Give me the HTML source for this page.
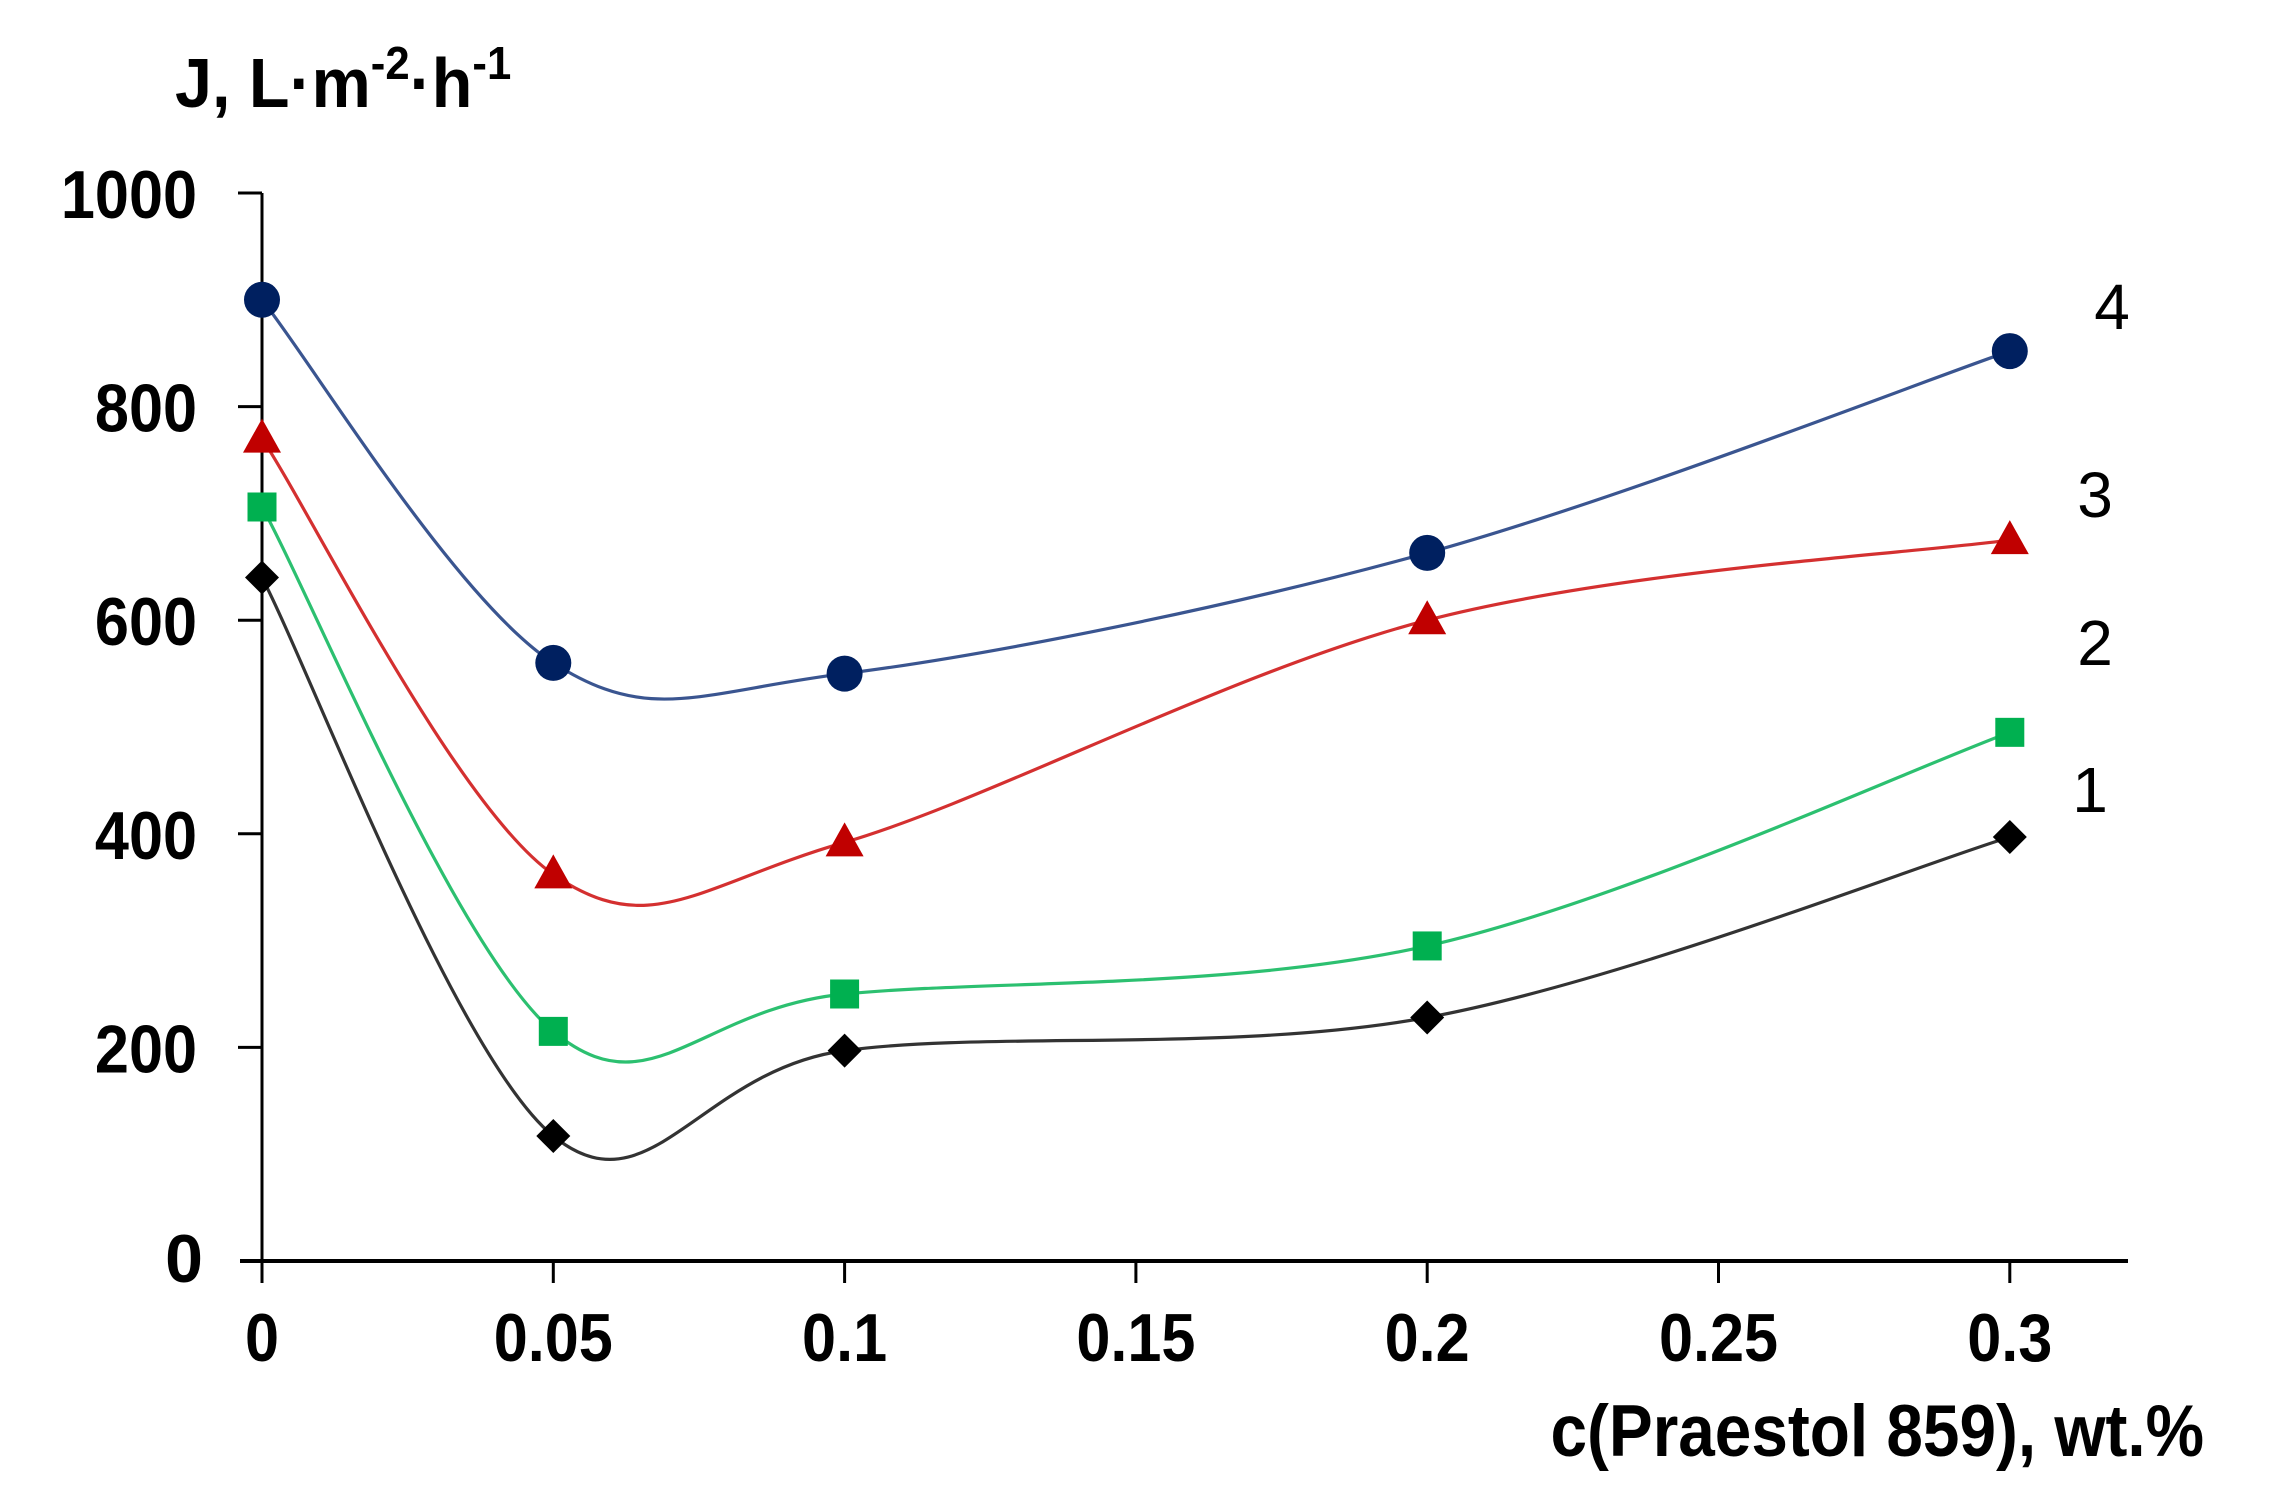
<!DOCTYPE html>
<html><head><meta charset="utf-8"><style>
html,body{margin:0;padding:0;background:#fff;}
svg{display:block;}
text{font-family:"Liberation Sans",Arial,sans-serif;fill:#000;}
.b{font-weight:bold;}
</style></head><body>
<svg id="s" width="2274" height="1507" viewBox="0 0 2274 1507" xmlns="http://www.w3.org/2000/svg">
<text class="b" x="175" y="107" font-size="70" transform="translate(175,0) scale(0.95,1) translate(-175,0)">J, L·m<tspan font-size="46" dy="-28">-2</tspan><tspan dy="28">·h</tspan><tspan font-size="46" dy="-28">-1</tspan></text>
<g id="axes" stroke="#000" fill="none">
<line x1="262" y1="193" x2="262" y2="1262" stroke-width="3"/>
<line x1="240" y1="1261" x2="2128" y2="1261" stroke-width="4"/>
</g>
<g id="lab"></g>
<g id="ser"></g>
<text class="b" x="2204" y="1456" font-size="73" text-anchor="end" transform="translate(2204,0) scale(0.9,1) translate(-2204,0)">c(Praestol 859), wt.%</text>
<text x="2112" y="329" font-size="64" text-anchor="middle">4</text>
<text x="2095" y="517" font-size="64" text-anchor="middle">3</text>
<text x="2095" y="665" font-size="64" text-anchor="middle">2</text>
<text x="2090" y="812" font-size="64" text-anchor="middle">1</text>
</svg>
<script>
var NS="http://www.w3.org/2000/svg";
function X(v){return 262+v/0.05*291.3;}
function Y(v){return 1261-v*1.068;}
function el(t,a,p){var e=document.createElementNS(NS,t);for(var k in a)e.setAttribute(k,a[k]);p.appendChild(e);return e;}
var ax=document.getElementById('axes'),lab=document.getElementById('lab');
for(var i=1;i<=5;i++){var y=Y(i*200);el('line',{x1:238,y1:y,x2:262,y2:y,'stroke-width':3},ax);
 var t=el('text',{x:197,y:y+25,'font-size':68,'text-anchor':'end','class':'b',transform:'translate(197,0) scale(0.9,1) translate(-197,0)'},lab);t.textContent=String(i*200);}
var t0=el('text',{x:184,y:1282,'font-size':68,'text-anchor':'middle','class':'b'},lab);t0.textContent='0';
var xl=['0','0.05','0.1','0.15','0.2','0.25','0.3'];
for(var i=0;i<7;i++){var x=X(i*0.05);el('line',{x1:x,y1:1261,x2:x,y2:1283,'stroke-width':3},ax);
 var t=el('text',{x:x,y:1361,'font-size':68,'text-anchor':'middle','class':'b',transform:'translate('+x+',0) scale(0.9,1) translate('+(-x)+',0)'},lab);t.textContent=xl[i];}
var xs=[0,0.05,0.1,0.2,0.3];
var S=[
 {d:[640,117,197,228,397],c:'#000',lc:'#333',m:'d'},
 {d:[706,215,250,295,495],c:'#00b050',lc:'#2cc070',m:'s'},
 {d:[770,362,392,600,675],c:'#c00000',lc:'#d43030',m:'t'},
 {d:[900,560,550,663,852],c:'#002060',lc:'#3a5590',m:'c'}];
var g=document.getElementById('ser');
S.forEach(function(s){
 var P=xs.map(function(x,i){return [X(x),Y(s.d[i])];});
 var d='M'+P[0][0]+','+P[0][1];var k=1/6;
 for(var i=0;i<P.length-1;i++){var p0=P[Math.max(i-1,0)],p1=P[i],p2=P[i+1],p3=P[Math.min(i+2,P.length-1)];
  var c1=[p1[0]+(p2[0]-p0[0])*k,p1[1]+(p2[1]-p0[1])*k],c2=[p2[0]-(p3[0]-p1[0])*k,p2[1]-(p3[1]-p1[1])*k];
  d+=' C'+c1+' '+c2+' '+p2;}
 el('path',{d:d,fill:'none',stroke:s.lc,'stroke-width':3.2},g);
 P.forEach(function(p){var x=p[0],y=p[1];
  if(s.m=='c')el('circle',{cx:x,cy:y,r:18,fill:s.c},g);
  else if(s.m=='s')el('rect',{x:x-14.5,y:y-14.5,width:29,height:29,fill:s.c},g);
  else if(s.m=='t')el('polygon',{points:(x-19)+','+(y+14)+' '+(x+19)+','+(y+14)+' '+x+','+(y-20),fill:s.c},g);
  else el('polygon',{points:x+','+(y-17)+' '+(x+17)+','+y+' '+x+','+(y+17)+' '+(x-17)+','+y,fill:s.c},g);
 });
});
</script>
</body></html>
